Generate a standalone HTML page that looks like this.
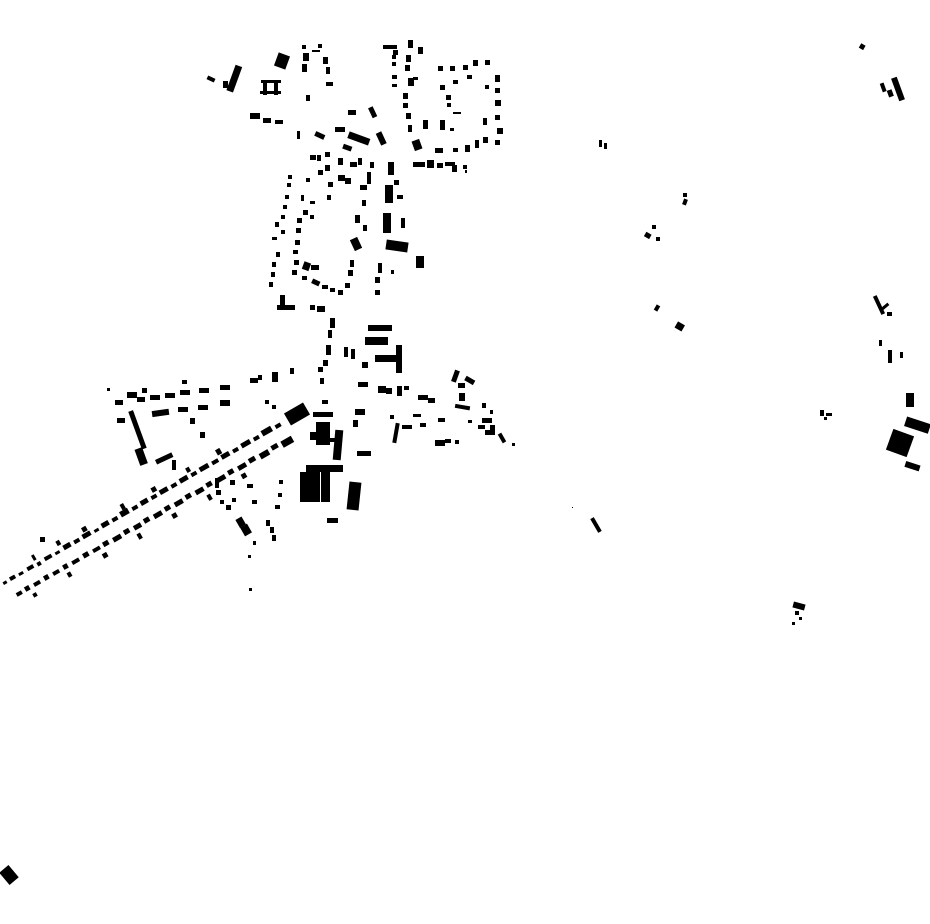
<!DOCTYPE html>
<html><head><meta charset="utf-8"><style>html,body{margin:0;padding:0;background:#fff}svg{display:block}</style></head><body>
<svg width="930" height="924" viewBox="0 0 930 924" xmlns="http://www.w3.org/2000/svg" fill="#000">
<!-- north cluster -->
<rect x="207" y="77" width="8" height="4" transform="rotate(25 211 79)"/>
<rect x="223" y="81" width="5" height="7"/>
<rect x="231" y="65" width="7" height="27" transform="rotate(20 234 78)"/>
<rect x="276" y="54" width="12" height="14" transform="rotate(20 282 61)"/>
<rect x="261" y="80" width="20" height="3"/><rect x="263" y="80" width="4" height="15"/><rect x="274" y="80" width="4" height="15"/><rect x="260" y="91" width="21" height="3"/>
<rect x="302" y="45" width="4" height="4"/><rect x="318" y="44" width="4" height="4"/><rect x="312" y="50" width="8" height="2"/>
<rect x="303" y="53" width="6" height="8"/><rect x="302" y="64" width="5" height="8"/>
<rect x="323" y="57" width="5" height="7"/><rect x="326" y="67" width="4" height="7"/><rect x="326" y="82" width="7" height="4"/>
<rect x="306" y="95" width="4" height="6"/>
<rect x="250" y="113" width="10" height="6"/><rect x="263" y="118" width="8" height="5"/><rect x="275" y="120" width="8" height="4"/>
<rect x="297" y="131" width="3" height="8"/><rect x="315" y="133" width="10" height="5" transform="rotate(25 320 135)"/>
<rect x="335" y="127" width="10" height="5"/><rect x="348" y="135" width="22" height="7" transform="rotate(20 359 138)"/>
<rect x="348" y="110" width="8" height="5"/><rect x="370" y="107" width="5" height="11" transform="rotate(-25 372 112)"/>
<rect x="378" y="132" width="6" height="13" transform="rotate(-25 381 138)"/>
<rect x="343" y="145" width="9" height="5" transform="rotate(20 347 147)"/>
<rect x="388" y="162" width="6" height="13"/>
<rect x="310" y="155" width="6" height="5"/><rect x="317" y="155" width="4" height="6"/><rect x="325" y="152" width="5" height="5"/>
<rect x="338" y="158" width="5" height="7"/><rect x="350" y="162" width="7" height="5"/><rect x="358" y="158" width="4" height="7"/>
<rect x="370" y="162" width="4" height="6"/><rect x="367" y="172" width="4" height="12"/><rect x="360" y="185" width="7" height="5"/>
<rect x="338" y="175" width="7" height="6"/><rect x="345" y="178" width="6" height="6"/>
<rect x="325" y="165" width="5" height="6"/><rect x="318" y="170" width="5" height="5"/><rect x="306" y="178" width="4" height="4"/>
<rect x="328" y="182" width="5" height="5"/><rect x="327" y="195" width="4" height="5"/><rect x="310" y="201" width="5" height="3"/>
<rect x="301" y="195" width="3" height="6"/><rect x="303" y="210" width="5" height="5"/><rect x="310" y="215" width="4" height="4"/>
<rect x="288" y="175" width="4" height="4"/><rect x="287" y="183" width="4" height="4"/><rect x="285" y="195" width="4" height="4"/>
<rect x="283" y="205" width="4" height="4"/><rect x="281" y="215" width="4" height="4"/><rect x="275" y="222" width="4" height="5"/>
<rect x="281" y="230" width="4" height="4"/><rect x="272" y="237" width="5" height="3"/><rect x="297" y="218" width="5" height="5"/>
<rect x="296" y="228" width="5" height="5"/><rect x="295" y="240" width="5" height="5"/><rect x="293" y="250" width="5" height="4"/>
<rect x="276" y="252" width="4" height="5"/><rect x="294" y="260" width="5" height="5"/><rect x="292" y="270" width="5" height="5"/>
<rect x="272" y="262" width="4" height="5"/><rect x="271" y="272" width="4" height="5"/><rect x="269" y="282" width="4" height="5"/>
<rect x="303" y="262" width="7" height="8" transform="rotate(20 306 266)"/><rect x="311" y="265" width="8" height="5"/>
<rect x="302" y="276" width="5" height="4"/><rect x="312" y="280" width="8" height="5" transform="rotate(25 316 282)"/>
<rect x="322" y="285" width="6" height="4"/><rect x="330" y="288" width="5" height="4"/><rect x="338" y="290" width="5" height="5"/>
<rect x="345" y="283" width="5" height="5"/><rect x="348" y="270" width="5" height="6"/><rect x="350" y="260" width="4" height="7"/>
<rect x="352" y="238" width="8" height="12" transform="rotate(-25 356 244)"/><rect x="355" y="215" width="5" height="8"/>
<rect x="362" y="200" width="4" height="6"/><rect x="363" y="225" width="4" height="6"/>
<rect x="385" y="185" width="8" height="18"/><rect x="394" y="180" width="5" height="5"/><rect x="397" y="195" width="6" height="4"/>
<rect x="383" y="213" width="8" height="20"/><rect x="401" y="218" width="4" height="10"/>
<rect x="386" y="241" width="22" height="10" transform="rotate(8 397 246)"/><rect x="416" y="256" width="8" height="12"/>
<rect x="378" y="263" width="4" height="10"/><rect x="375" y="277" width="5" height="6"/><rect x="375" y="290" width="5" height="5"/><rect x="391" y="270" width="3" height="4"/>
<rect x="280" y="295" width="5" height="14"/><rect x="277" y="305" width="18" height="5"/><rect x="310" y="305" width="5" height="5"/><rect x="317" y="306" width="8" height="6"/>
<!-- NE ring cluster -->
<rect x="383" y="45" width="14" height="4"/><rect x="393" y="50" width="5" height="5"/><rect x="408" y="40" width="5" height="8"/>
<rect x="418" y="47" width="5" height="7"/><rect x="392" y="55" width="4" height="4"/><rect x="392" y="62" width="4" height="4"/>
<rect x="406" y="55" width="5" height="7"/><rect x="405" y="65" width="5" height="6"/><rect x="408" y="78" width="6" height="8"/>
<rect x="392" y="75" width="5" height="4"/><rect x="392" y="84" width="5" height="3"/><rect x="413" y="77" width="5" height="3"/>
<rect x="403" y="93" width="5" height="6"/><rect x="403" y="103" width="5" height="5"/><rect x="406" y="113" width="5" height="6"/>
<rect x="408" y="125" width="4" height="7"/><rect x="413" y="140" width="8" height="10" transform="rotate(-20 417 145)"/>
<rect x="423" y="120" width="5" height="9"/><rect x="438" y="66" width="5" height="5"/><rect x="450" y="66" width="5" height="5"/>
<rect x="463" y="65" width="5" height="5"/><rect x="473" y="60" width="5" height="6"/><rect x="485" y="60" width="5" height="5"/>
<rect x="495" y="75" width="5" height="7"/><rect x="495" y="88" width="5" height="5"/><rect x="495" y="100" width="6" height="6"/>
<rect x="495" y="115" width="5" height="5"/><rect x="497" y="128" width="6" height="6"/><rect x="495" y="140" width="5" height="5"/>
<rect x="483" y="137" width="5" height="6"/><rect x="475" y="140" width="4" height="8"/><rect x="483" y="118" width="4" height="7"/>
<rect x="467" y="75" width="5" height="4"/><rect x="485" y="85" width="4" height="4"/><rect x="440" y="85" width="5" height="5"/>
<rect x="453" y="80" width="5" height="4"/><rect x="446" y="95" width="5" height="5"/><rect x="453" y="112" width="8" height="2"/>
<rect x="447" y="103" width="4" height="4"/><rect x="440" y="120" width="5" height="10"/><rect x="450" y="128" width="4" height="3"/>
<rect x="435" y="148" width="8" height="5"/><rect x="453" y="148" width="5" height="4"/><rect x="465" y="145" width="5" height="7"/>
<rect x="413" y="162" width="12" height="5"/><rect x="427" y="160" width="7" height="8"/><rect x="437" y="163" width="6" height="5"/>
<rect x="445" y="162" width="10" height="4"/><rect x="452" y="165" width="5" height="7"/><rect x="463" y="165" width="4" height="4"/><rect x="465" y="170" width="2" height="3"/>
<!-- middle spine -->
<rect x="330" y="318" width="5" height="10"/><rect x="328" y="330" width="4" height="8"/><rect x="326" y="345" width="5" height="10"/>
<rect x="323" y="360" width="5" height="6"/><rect x="318" y="367" width="5" height="5"/><rect x="320" y="378" width="4" height="6"/>
<rect x="344" y="347" width="4" height="10"/><rect x="351" y="349" width="4" height="10"/>
<rect x="368" y="325" width="24" height="6"/><rect x="365" y="337" width="23" height="8"/><rect x="375" y="355" width="25" height="7"/><rect x="396" y="345" width="6" height="28"/>
<rect x="362" y="362" width="6" height="6"/><rect x="358" y="382" width="10" height="5"/><rect x="322" y="400" width="6" height="4"/>
<rect x="313" y="412" width="20" height="5"/><rect x="316" y="422" width="14" height="23"/><rect x="310" y="432" width="6" height="8"/>
<rect x="334" y="430" width="8" height="30" transform="rotate(5 338 445)"/><rect x="330" y="438" width="6" height="4"/>
<rect x="286" y="407" width="22" height="14" transform="rotate(-30 297 414)"/>
<rect x="306" y="465" width="37" height="7"/><rect x="300" y="472" width="11" height="30"/><rect x="311" y="472" width="9" height="30"/><rect x="321" y="472" width="9" height="30"/>
<rect x="348" y="482" width="12" height="28" transform="rotate(6 354 496)"/><rect x="327" y="518" width="11" height="5"/>
<rect x="357" y="451" width="14" height="5"/><rect x="355" y="409" width="10" height="6"/><rect x="353" y="420" width="5" height="7"/>
<rect x="378" y="386" width="8" height="7"/><rect x="386" y="388" width="6" height="6"/><rect x="397" y="386" width="5" height="10"/><rect x="404" y="386" width="5" height="4"/>
<rect x="418" y="395" width="10" height="5"/><rect x="390" y="415" width="4" height="4"/><rect x="394" y="423" width="4" height="20" transform="rotate(10 396 433)"/>
<rect x="402" y="425" width="10" height="4"/><rect x="420" y="423" width="6" height="4"/><rect x="413" y="414" width="8" height="3"/>
<rect x="438" y="418" width="7" height="4"/><rect x="435" y="440" width="10" height="6"/><rect x="445" y="439" width="6" height="4"/><rect x="455" y="440" width="4" height="4"/>
<rect x="428" y="398" width="7" height="5"/><rect x="453" y="370" width="5" height="12" transform="rotate(20 455 376)"/>
<rect x="458" y="383" width="7" height="5"/><rect x="465" y="378" width="10" height="5" transform="rotate(30 470 380)"/>
<rect x="459" y="393" width="6" height="8"/><rect x="455" y="405" width="15" height="4" transform="rotate(10 462 407)"/>
<rect x="482" y="403" width="4" height="5"/><rect x="482" y="418" width="10" height="5"/><rect x="478" y="425" width="7" height="4"/>
<rect x="490" y="425" width="5" height="10"/><rect x="485" y="430" width="6" height="5"/><rect x="500" y="433" width="4" height="10" transform="rotate(-30 502 438)"/><rect x="512" y="443" width="3" height="3"/>
<rect x="468" y="420" width="4" height="3"/><rect x="490" y="410" width="3" height="4"/>
<!-- west branch -->
<rect x="107" y="388" width="3" height="3"/><rect x="127" y="392" width="10" height="6"/><rect x="137" y="397" width="8" height="5"/><rect x="142" y="388" width="5" height="5"/>
<rect x="150" y="395" width="10" height="5"/><rect x="165" y="393" width="10" height="5"/><rect x="180" y="390" width="10" height="5"/>
<rect x="182" y="380" width="5" height="4"/><rect x="199" y="388" width="10" height="5"/><rect x="220" y="385" width="10" height="5"/>
<rect x="250" y="378" width="8" height="5"/><rect x="258" y="375" width="4" height="5"/><rect x="272" y="372" width="6" height="10"/><rect x="290" y="368" width="4" height="6"/>
<rect x="115" y="400" width="8" height="5"/><rect x="117" y="418" width="8" height="5"/>
<rect x="135" y="410" width="5" height="40" transform="rotate(-20 137 430)"/><rect x="137" y="448" width="8" height="17" transform="rotate(-20 141 456)"/>
<rect x="152" y="410" width="17" height="6" transform="rotate(-8 160 413)"/><rect x="178" y="407" width="10" height="5"/><rect x="198" y="405" width="10" height="5"/>
<rect x="220" y="400" width="10" height="6"/><rect x="190" y="418" width="5" height="6"/><rect x="200" y="432" width="5" height="6"/>
<rect x="155" y="456" width="18" height="5" transform="rotate(-25 164 458)"/><rect x="172" y="460" width="4" height="10"/>
<rect x="265" y="400" width="4" height="4"/><rect x="272" y="405" width="4" height="4"/>
<!-- diagonal main street -->
<g transform="translate(4,585) rotate(-29.8)">
<rect x="0" y="-3" width="4" height="3"/><rect x="8" y="-4" width="6" height="4"/><rect x="18" y="-3" width="5" height="3"/><rect x="28" y="-4" width="7" height="4"/><rect x="39" y="-3" width="4" height="4"/><rect x="48" y="-4" width="8" height="4"/><rect x="60" y="-3" width="5" height="3"/><rect x="70" y="-5" width="8" height="5"/><rect x="82" y="-4" width="6" height="4"/><rect x="92" y="-5" width="9" height="5"/><rect x="105" y="-3" width="5" height="3"/><rect x="114" y="-5" width="8" height="5"/><rect x="126" y="-4" width="6" height="4"/><rect x="136" y="-6" width="9" height="6"/><rect x="149" y="-4" width="6" height="4"/><rect x="159" y="-5" width="8" height="5"/><rect x="171" y="-4" width="6" height="4"/><rect x="181" y="-5" width="9" height="5"/><rect x="194" y="-4" width="6" height="4"/><rect x="204" y="-5" width="9" height="5"/><rect x="217" y="-4" width="6" height="4"/><rect x="227" y="-5" width="10" height="5"/><rect x="241" y="-4" width="7" height="4"/><rect x="252" y="-5" width="9" height="5"/><rect x="265" y="-4" width="6" height="4"/><rect x="275" y="-5" width="10" height="5"/><rect x="289" y="-4" width="6" height="4"/><rect x="299" y="-6" width="11" height="6"/><rect x="314" y="-4" width="6" height="4"/>
<rect x="95" y="-11" width="5" height="5"/><rect x="140" y="-12" width="4" height="6"/><rect x="175" y="-11" width="5" height="5"/><rect x="215" y="-11" width="4" height="5"/><rect x="250" y="-12" width="5" height="6"/><rect x="38" y="-12" width="3" height="6"/><rect x="66" y="-12" width="4" height="5"/>
<rect x="6" y="13" width="6" height="4"/><rect x="16" y="12" width="5" height="5"/><rect x="26" y="13" width="7" height="4"/><rect x="38" y="12" width="5" height="5"/><rect x="48" y="13" width="7" height="4"/><rect x="60" y="12" width="5" height="5"/><rect x="70" y="13" width="8" height="4"/><rect x="83" y="12" width="6" height="5"/><rect x="94" y="13" width="8" height="4"/><rect x="106" y="12" width="6" height="5"/><rect x="117" y="13" width="9" height="5"/><rect x="130" y="12" width="6" height="5"/><rect x="141" y="13" width="8" height="5"/><rect x="153" y="12" width="6" height="5"/><rect x="164" y="13" width="9" height="5"/><rect x="177" y="12" width="6" height="5"/><rect x="188" y="13" width="9" height="5"/><rect x="201" y="12" width="6" height="5"/><rect x="212" y="13" width="9" height="5"/><rect x="225" y="12" width="6" height="5"/><rect x="236" y="13" width="10" height="5"/><rect x="250" y="12" width="6" height="5"/><rect x="261" y="13" width="9" height="5"/><rect x="274" y="12" width="7" height="5"/><rect x="286" y="13" width="10" height="6"/><rect x="300" y="12" width="7" height="5"/><rect x="311" y="13" width="12" height="7"/>
<rect x="60" y="21" width="4" height="5"/><rect x="100" y="22" width="5" height="5"/><rect x="140" y="22" width="4" height="6"/><rect x="180" y="22" width="5" height="5"/><rect x="220" y="23" width="4" height="6"/><rect x="260" y="22" width="5" height="5"/><rect x="20" y="22" width="4" height="4"/>
</g>
<rect x="215" y="478" width="4" height="10"/><rect x="216" y="490" width="5" height="5"/><rect x="220" y="500" width="4" height="4"/>
<rect x="226" y="505" width="5" height="5"/><rect x="232" y="498" width="4" height="4"/><rect x="230" y="480" width="5" height="5"/>
<rect x="237" y="518" width="7" height="9" transform="rotate(-30 240 522)"/><rect x="242" y="525" width="8" height="10" transform="rotate(-30 246 530)"/>
<rect x="253" y="541" width="3" height="4"/><rect x="248" y="555" width="3" height="3"/><rect x="249" y="588" width="3" height="3"/>
<rect x="266" y="520" width="4" height="6"/><rect x="270" y="527" width="4" height="6"/><rect x="272" y="535" width="4" height="6"/>
<rect x="275" y="505" width="5" height="4"/><rect x="278" y="493" width="4" height="4"/><rect x="279" y="480" width="4" height="4"/>
<rect x="247" y="484" width="6" height="4"/><rect x="252" y="500" width="5" height="4"/>
<rect x="40" y="537" width="5" height="5"/>
<!-- east scattered -->
<rect x="860" y="44" width="5" height="5" transform="rotate(30 862 46)"/>
<rect x="895" y="77" width="6" height="24" transform="rotate(-20 898 89)"/><rect x="881" y="83" width="4" height="9" transform="rotate(-20 883 87)"/><rect x="888" y="90" width="5" height="7" transform="rotate(-20 890 94)"/>
<rect x="599" y="140" width="3" height="7"/><rect x="604" y="143" width="3" height="6"/>
<rect x="683" y="193" width="4" height="4"/><rect x="683" y="199" width="4" height="6" transform="rotate(20 685 202)"/>
<rect x="645" y="233" width="6" height="5" transform="rotate(30 648 235)"/><rect x="652" y="225" width="4" height="4"/><rect x="656" y="237" width="4" height="4"/>
<rect x="655" y="305" width="4" height="6" transform="rotate(30 657 308)"/><rect x="676" y="323" width="8" height="7" transform="rotate(30 680 326)"/>
<rect x="877" y="295" width="4" height="20" transform="rotate(-25 879 305)"/><rect x="881" y="305" width="8" height="3" transform="rotate(-40 885 306)"/><rect x="887" y="312" width="5" height="4"/>
<rect x="879" y="340" width="3" height="6"/><rect x="888" y="350" width="4" height="13"/><rect x="900" y="352" width="3" height="6"/>
<rect x="906" y="393" width="8" height="14"/><rect x="905" y="420" width="25" height="10" transform="rotate(18 917 425)"/>
<rect x="889" y="432" width="22" height="22" transform="rotate(20 900 443)"/><rect x="905" y="463" width="15" height="6" transform="rotate(18 912 466)"/>
<rect x="820" y="410" width="4" height="6"/><rect x="826" y="413" width="6" height="3"/><rect x="824" y="417" width="3" height="3"/>
<rect x="572" y="507" width="1" height="1"/><rect x="594" y="517" width="4" height="16" transform="rotate(-30 596 525)"/>
<rect x="793" y="603" width="12" height="6" transform="rotate(15 799 606)"/><rect x="795" y="611" width="4" height="4"/><rect x="799" y="617" width="3" height="3"/><rect x="792" y="622" width="3" height="3"/>
<rect x="3" y="867" width="12" height="16" transform="rotate(-40 9 875)"/>
</svg>
</body></html>
